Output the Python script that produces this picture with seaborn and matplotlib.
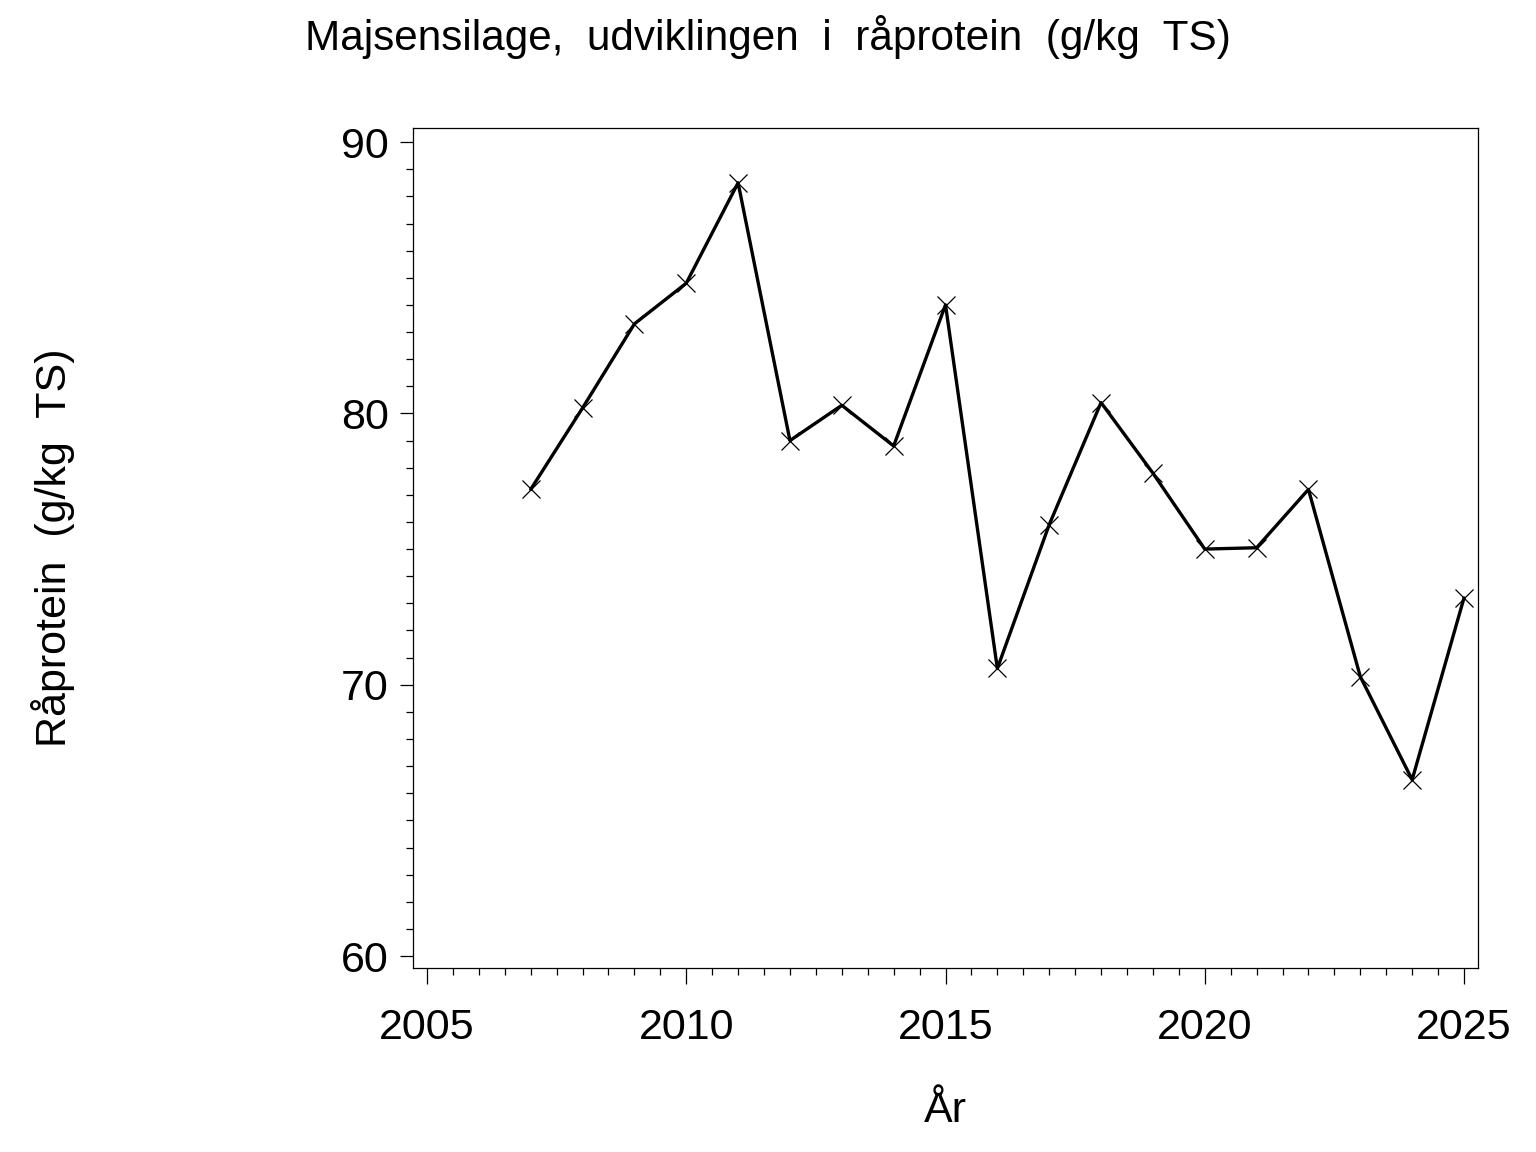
import numpy as np
import pandas as pd
import seaborn as sns
import matplotlib.pyplot as plt
from matplotlib.ticker import MultipleLocator

# data
aar = [2007, 2008, 2009, 2010, 2011, 2012, 2013, 2014, 2015, 2016,
       2017, 2018, 2019, 2020, 2021, 2022, 2023, 2024, 2025]
raaprotein = [77.2, 80.2, 83.3, 84.8, 88.5, 79.0, 80.3, 78.8, 84.0, 70.6,
              75.9, 80.4, 77.8, 75.0, 75.05, 77.2, 70.3, 66.5, 73.2]

titel = "Majsensilage,  udviklingen  i  råprotein  (g/kg  TS)"
x_titel = "År"
y_titel = "Råprotein  (g/kg  TS)"

df = pd.DataFrame({"aar": aar, "raaprotein": raaprotein})

sns.set_style("ticks")
plt.rcParams['font.family'] = ['Liberation Sans', 'DejaVu Sans']
plt.rcParams['text.color'] = 'black'
plt.rcParams['axes.labelcolor'] = 'black'
plt.rcParams['xtick.color'] = 'black'
plt.rcParams['ytick.color'] = 'black'

fig = plt.figure(figsize=(15.36, 11.52), dpi=100)
ax = fig.add_axes([413/1536, 1 - 968/1152, 1065/1536, 840/1152])

sns.lineplot(data=df, x="aar", y="raaprotein", ax=ax, color="black",
             linewidth=2.4, marker="x", markersize=13, markeredgewidth=0.9,
             markeredgecolor="black")

ax.set_xlim(2004.73, 2025.27)
ax.set_ylim(59.56, 90.52)
ax.xaxis.set_major_locator(MultipleLocator(5))
ax.xaxis.set_minor_locator(MultipleLocator(0.5))
ax.yaxis.set_major_locator(MultipleLocator(10))
ax.yaxis.set_minor_locator(MultipleLocator(1))

for s in ax.spines.values():
    s.set_visible(True)
    s.set_linewidth(0.9)
    s.set_color("black")

ax.tick_params(axis="x", which="major", length=11.5, width=0.9, pad=17, labelsize=31)
ax.tick_params(axis="x", which="minor", length=5, width=0.9)
ax.tick_params(axis="y", which="major", length=9.5, width=0.9, pad=8, labelsize=31)
ax.tick_params(axis="y", which="minor", length=5, width=0.9)

ax.set_xlabel(x_titel, fontsize=31)
ax.set_ylabel(y_titel, fontsize=31)
ax.xaxis.set_label_coords(0.5, -0.147)
ax.yaxis.set_label_coords(-0.317, 0.5)

fig.suptitle(titel, fontsize=30.4, y=1 - 37/1152, va="center")

plt.savefig("out.png", dpi=100)
